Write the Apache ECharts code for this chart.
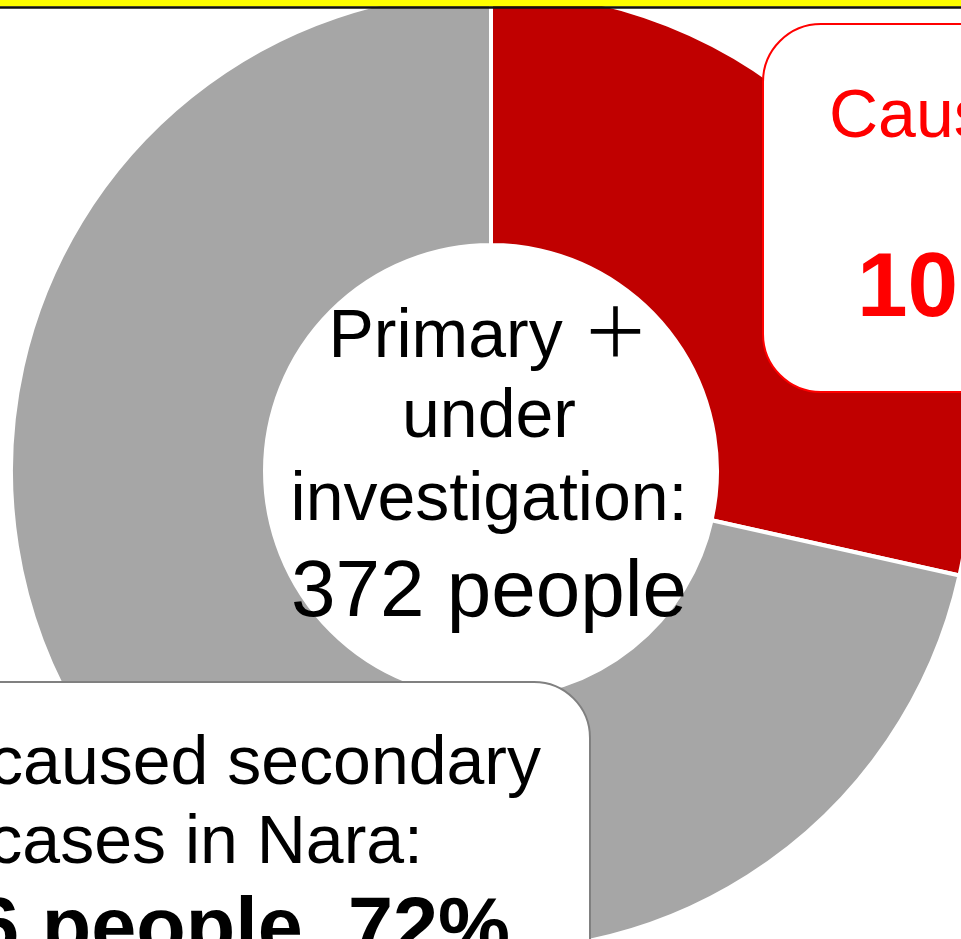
<!DOCTYPE html>
<html>
<head>
<meta charset="utf-8">
<script src="https://cdn.jsdelivr.net/npm/echarts@6/dist/echarts.min.js"></script>
<style>
  html, body { margin: 0; padding: 0; background: #fff; }
  #chart { width: 961px; height: 939px; }
</style>
</head>
<body>
<div id="chart"></div>
<script>
// ---- data ----
const categories = ['Caused secondary cases in Nara', 'Not caused secondary cases in Nara'];
const values = [106, 266];
const centerLines = ['Primary ＋', 'under', 'investigation:'];
const unit = 'people';

// ---- styles ----
const sliceColors = ['#C00000', '#A6A6A6'];
const FONT = '"Liberation Sans", Arial, Helvetica, "Noto Sans CJK JP", sans-serif';

const total = values.reduce((a, b) => a + b, 0);
const pct = values.map(v => Math.round(v / total * 100));

const chart = echarts.init(document.getElementById('chart'), null, { renderer: 'canvas' });

function txt(text, x, y, size, color, align, weight) {
  return {
    type: 'text', x: x, y: y, z: 110, silent: true,
    style: {
      text: text, fill: color, font: (weight || 'normal') + ' ' + size + 'px ' + FONT,
      align: align, verticalAlign: 'middle'
    }
  };
}

const option = {
  animation: false,
  backgroundColor: '#ffffff',
  series: [{
    type: 'pie',
    center: [491, 471],
    radius: [226, 480],
    startAngle: 90,
    clockwise: true,
    silent: true,
    label: { show: false },
    labelLine: { show: false },
    emphasis: { disabled: true },
    itemStyle: { borderColor: '#ffffff', borderWidth: 4 },
    data: values.map((v, i) => ({ name: categories[i], value: v, itemStyle: { color: sliceColors[i] } }))
  }],
  graphic: [
    // top yellow band with dark rule
    { type: 'rect', z: 120, silent: true, shape: { x: 0, y: 0, width: 961, height: 6.5 }, style: { fill: '#FFFF00' } },
    { type: 'rect', z: 120, silent: true, shape: { x: 0, y: 6.3, width: 961, height: 2.4 }, style: { fill: '#111111' } },

    // centre text
    txt(centerLines[0], 489, 338.4, 68, '#000', 'center'),
    txt(centerLines[1], 489, 418.4, 68, '#000', 'center'),
    txt(centerLines[2], 489, 501.4, 68, '#000', 'center'),
    txt(total + ' ' + unit, 489, 594.3, 80, '#000', 'center'),

    // red callout box (caused secondary cases)
    { type: 'rect', z: 100, silent: true, shape: { x: 763, y: 24, width: 1000, height: 368, r: 58 },
      style: { fill: '#ffffff', stroke: '#FF0000', lineWidth: 2 } },
    txt('Caused secondary cases', 829, 118.4, 68, '#FF0000', 'left'),
    txt('in Nara:', 1096, 198.4, 68, '#FF0000', 'left'),
    txt(values[0] + ' ' + unit + ', ' + pct[0] + '%', 857, 290.5, 91, '#FF0000', 'left', 'bold'),

    // grey callout box (not caused secondary cases)
    { type: 'rect', z: 100, silent: true, shape: { x: -400, y: 682, width: 990, height: 500, r: 56 },
      style: { fill: '#ffffff', stroke: '#808080', lineWidth: 2 } },
    txt('Not caused secondary', 541, 765.4, 68, '#000', 'right'),
    txt('cases in Nara:', 423, 844.4, 68, '#000', 'right'),
    txt(values[1] + ' ' + unit + ', ' + pct[1] + '%', 510, 932, 81, '#000', 'right', 'bold')
  ]
};

chart.setOption(option);
</script>
</body>
</html>
